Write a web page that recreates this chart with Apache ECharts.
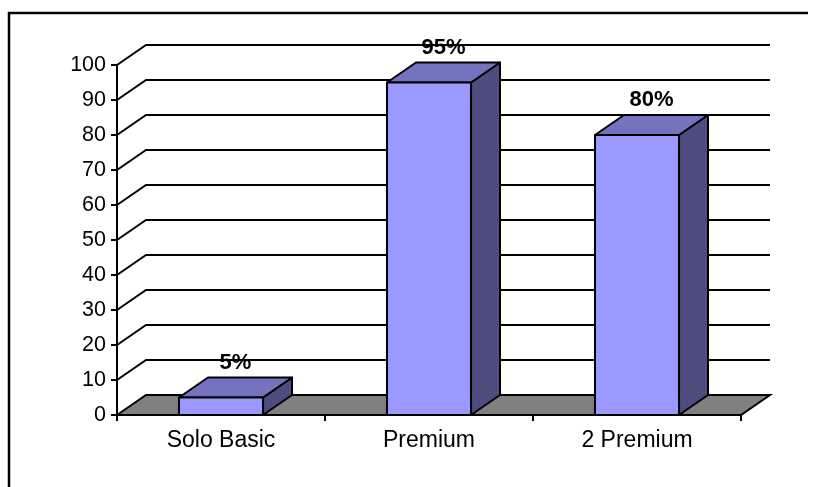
<!DOCTYPE html>
<html><head><meta charset="utf-8">
<script src="https://cdn.jsdelivr.net/npm/echarts@6/dist/echarts.min.js"></script>
<style>html,body{margin:0;padding:0;background:#fff}#c{width:813px;height:487px}</style>
</head><body><div id="c"></div>
<script>
var categories = ['Solo Basic', 'Premium', '2 Premium'];
var values = [5, 95, 80];
var labels = ['5%', '95%', '80%'];
var gridValues = [0, 10, 20, 30, 40, 50, 60, 70, 80, 90, 100];

var DX = 29, DY = -20;
var chart = echarts.init(document.getElementById('c'));

function wallItem(params, api) {
  var cs = params.coordSys;
  var v = api.value(0);
  var y = api.coord([0, v])[1];
  var x0 = cs.x, x1 = cs.x + cs.width;
  var children = [];
  if (v === 0) {
    children.push({
      type: 'polygon',
      shape: { points: [[x0, y], [x0 + DX, y + DY], [x1 + DX, y + DY], [x1, y]] },
      style: { fill: '#808080', stroke: '#000', lineWidth: 2 }
    });
  } else {
    children.push({
      type: 'polyline',
      shape: { points: [[x0, y], [x0 + DX, y + DY], [x1 + DX, y + DY]] },
      style: { fill: null, stroke: '#000', lineWidth: 2 }
    });
  }
  return { type: 'group', children: children };
}

function barItem(params, api) {
  var idx = api.value(0);
  var v = api.value(1);
  var top = api.coord([idx, v]);
  var base = api.coord([idx, 0]);
  var bw = api.size([1, 0])[0] * 0.404;
  var xa = top[0] - bw / 2, xb = top[0] + bw / 2;
  var yt = top[1], yb = base[1];
  var st = { stroke: '#000', lineWidth: 2, lineJoin: 'round' };
  return {
    type: 'group',
    children: [
      { type: 'polygon', shape: { points: [[xb, yt], [xb + DX, yt + DY], [xb + DX, yb + DY], [xb, yb]] },
        style: Object.assign({ fill: '#4D4D80' }, st) },
      { type: 'polygon', shape: { points: [[xa, yt], [xa + DX, yt + DY], [xb + DX, yt + DY], [xb, yt]] },
        style: Object.assign({ fill: '#7373BF' }, st) },
      { type: 'rect', shape: { x: xa, y: yt, width: bw, height: yb - yt },
        style: Object.assign({ fill: '#9999FF' }, st) },
      { type: 'text', x: top[0] + DX / 2, y: yt + DY - 15,
        style: { text: labels[params.dataIndex], fill: '#000', font: 'bold 22px "Liberation Sans", Arial, sans-serif',
          align: 'center', verticalAlign: 'middle' } }
    ]
  };
}

chart.setOption({
  animation: false,
  backgroundColor: '#fff',
  graphic: [
    { type: 'polyline', shape: { points: [[9, 500], [9, 13], [808, 13]] },
      style: { fill: null, stroke: '#000', lineWidth: 2.5 }, z: 10 }
  ],
  grid: { left: 117, right: 72, top: 65, bottom: 72 },
  xAxis: {
    type: 'category', data: categories, boundaryGap: true,
    axisLine: { show: true, lineStyle: { color: '#000', width: 2 } },
    axisTick: { show: true, length: 6, inside: false, lineStyle: { color: '#000', width: 2 } },
    axisLabel: { color: '#000', fontSize: 23, fontFamily: '"Liberation Sans", Arial, sans-serif', margin: 14 },
    z: 5
  },
  yAxis: {
    type: 'value', min: 0, max: 100, interval: 10,
    axisLine: { show: true, lineStyle: { color: '#000', width: 2 } },
    axisTick: { show: true, length: 6, lineStyle: { color: '#000', width: 2 } },
    axisLabel: { color: '#000', fontSize: 21.5, fontFamily: '"Liberation Sans", Arial, sans-serif', margin: 11 },
    splitLine: { show: false },
    z: 5
  },
  series: [
    { type: 'custom', renderItem: wallItem, data: gridValues.map(function (v) { return [v]; }),
      encode: { y: 0 }, z: 1, silent: true },
    { type: 'custom', renderItem: barItem, data: values.map(function (v, i) { return [i, v]; }),
      encode: { x: 0, y: 1 }, z: 2, silent: true }
  ]
});
</script></body></html>
